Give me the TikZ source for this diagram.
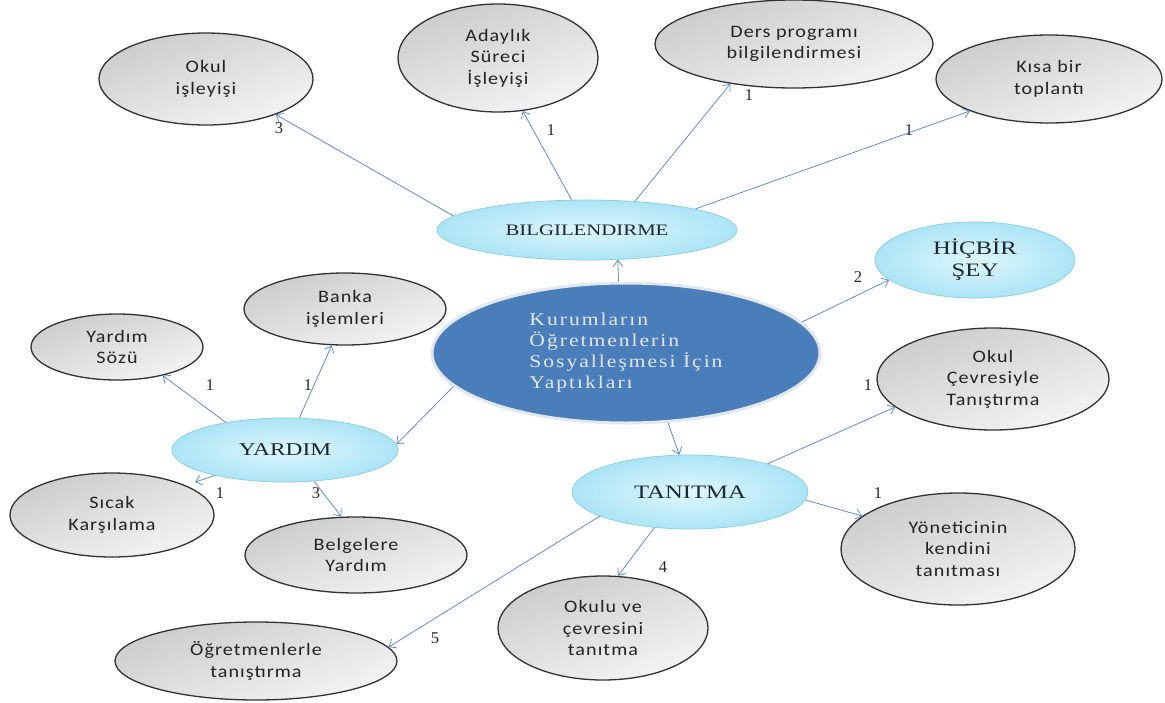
\documentclass[tikz,border=0pt]{standalone}
\usepackage{fontspec}
\setmainfont{Liberation Serif}
\newfontfamily\ovalsans[FakeStretch=1.15,LetterSpace=6]{Carlito}
\newfontfamily\capsserif[FakeStretch=1.3]{Liberation Serif}
\newfontfamily\hubserif[FakeStretch=1.2,LetterSpace=11]{Liberation Serif}
\usetikzlibrary{shapes.geometric,arrows.meta}

\definecolor{linkblue}{RGB}{100,140,198}
\definecolor{ovalline}{RGB}{50,50,50}
\definecolor{ovaltext}{RGB}{35,35,35}
\definecolor{ovaltop}{RGB}{204,204,204}
\definecolor{ovalbottom}{RGB}{244,244,244}
\definecolor{cyanin}{RGB}{222,247,253}
\definecolor{cyanout}{RGB}{172,228,245}
\definecolor{cyanline}{RGB}{140,208,230}
\definecolor{capstext}{RGB}{28,38,50}
\definecolor{hubfill}{RGB}{74,126,187}
\definecolor{hubline}{RGB}{226,231,240}
\definecolor{hubtext}{RGB}{228,230,246}

\begin{document}
\begin{tikzpicture}[x=1pt,y=-1pt,
  oval size/.style 2 args={minimum width=#1pt,minimum height=#2pt},
  grayoval/.style={ellipse,draw=ovalline,line width=1.3pt,
    top color=ovaltop,bottom color=ovalbottom,shading angle=20,
    inner sep=0pt,align=center,text=ovaltext,
    font=\ovalsans\fontsize{17.5}{21.5}\selectfont},
  cyanoval/.style={ellipse,draw=cyanline,line width=0.8pt,
    inner color=cyanin,outer color=cyanout,
    inner sep=0pt,align=center,text=capstext,
    font=\capsserif\fontsize{18}{22}\selectfont},
  huboval/.style={ellipse,draw=hubline,line width=3pt,fill=hubfill,
    inner sep=0pt,align=left,text=hubtext,
    font=\hubserif\fontsize{18}{21}\selectfont},
  link/.style={draw=linkblue,line width=0.8pt,
    -{Straight Barb[length=6pt,width=10pt]}},
  count/.style={inner sep=0pt,text=black!85,
    font=\fontsize{16.5}{16.5}\selectfont}]

% canvas
\path[fill=white,use as bounding box] (0,0) rectangle (1165,702);

% central topic
\node[huboval,oval size={388}{140}] (merkez) at (626,353)
  {Kurumların\\Öğretmenlerin\\Sosyalleşmesi İçin\\Yaptıkları};

% main categories
\node[cyanoval,oval size={300}{60},font=\capsserif\fontsize{16}{20}\selectfont]
  (bil) at (587,230) {BILGILENDIRME};
\node[cyanoval,oval size={200}{76},font=\capsserif\fontsize{19}{22}\selectfont]
  (hic) at (975,260) {HİÇBİR\\ŞEY};
\node[cyanoval,oval size={226}{64}] (yardim) at (285,450) {YARDIM};
\node[cyanoval,oval size={236}{74},font=\capsserif\fontsize{19}{22}\selectfont]
  (tanit) at (690,492) {TANITMA};

% BILGILENDIRME items
\node[grayoval,oval size={214}{92}] (okul) at (206,79) {Okul\\işleyişi};
\node[grayoval,oval size={200}{108}] (aday) at (498,58) {Adaylık\\Süreci\\İşleyişi};
\node[grayoval,oval size={278}{88}] (ders) at (794,44) {Ders programı\\bilgilendirmesi};
\node[grayoval,oval size={226}{88}] (kisa) at (1049,79) {Kısa bir\\toplantı};

% YARDIM items
\node[grayoval,oval size={202}{72}] (banka) at (345,309) {Banka\\işlemleri};
\node[grayoval,oval size={172}{66}] (soz) at (117,347) {Yardım\\Sözü};
\node[grayoval,oval size={204}{84}] (sicak) at (112,515) {Sıcak\\Karşılama};
\node[grayoval,oval size={222}{76}] (belge) at (356,555) {Belgelere\\Yardım};

% TANITMA items
\node[grayoval,oval size={232}{102}] (cevre) at (993,379) {Okul\\Çevresiyle\\Tanıştırma};
\node[grayoval,oval size={234}{112}] (yonet) at (958,549) {Yöneticinin\\kendini\\tanıtması};
\node[grayoval,oval size={210}{104}] (okulu) at (603,628) {Okulu ve\\çevresini\\tanıtma};
\node[grayoval,oval size={282}{78}] (ogret) at (256,661) {Öğretmenlerle\\tanıştırma};

% connectors
\draw[link] (merkez.96) -- (bil.-44);
\draw[link] (merkez.10) -- (hic.193);
\draw[link] (merkez.191) -- (yardim.3);
\draw[link] (merkez.-59) -- (tanit.106);

\draw[link] (bil.174) -- (okul.-27);
\draw[link] (bil.117) -- (aday.-65);
\draw[link] (bil.31) -- (ders.212);
\draw[link] (bil.11) -- (kisa.202);

\draw[link] (yardim.155) -- (soz.-32);
\draw[link] (yardim.66) -- (banka.250);
\draw[link,shorten >=10pt] (yardim.200) -- (sicak.22);
\draw[link] (yardim.-47) -- (belge.111);

\draw[link] (tanit.20) -- (cevre.196);
\draw[link] (tanit.-4) -- (yonet.161);
\draw[link] (tanit.225) -- (okulu.74);
\draw[link] (tanit.195) -- (ogret.6);

% frequencies
\node[count] (c-okul) at (279,128) {3};
\node[count] (c-aday) at (551,130) {1};
\node[count] (c-ders) at (749,95) {1};
\node[count] (c-kisa) at (909,130) {1};
\node[count] (c-hic) at (858,277) {2};
\node[count] (c-soz) at (210,385) {1};
\node[count] (c-banka) at (308,385) {1};
\node[count] (c-sicak) at (220,493) {1};
\node[count] (c-belge) at (316,493) {3};
\node[count] (c-cevre) at (868,385) {1};
\node[count] (c-yonet) at (878,493) {1};
\node[count] (c-okulu) at (663,567) {4};
\node[count] (c-ogret) at (435,638) {5};
\end{tikzpicture}
\end{document}
